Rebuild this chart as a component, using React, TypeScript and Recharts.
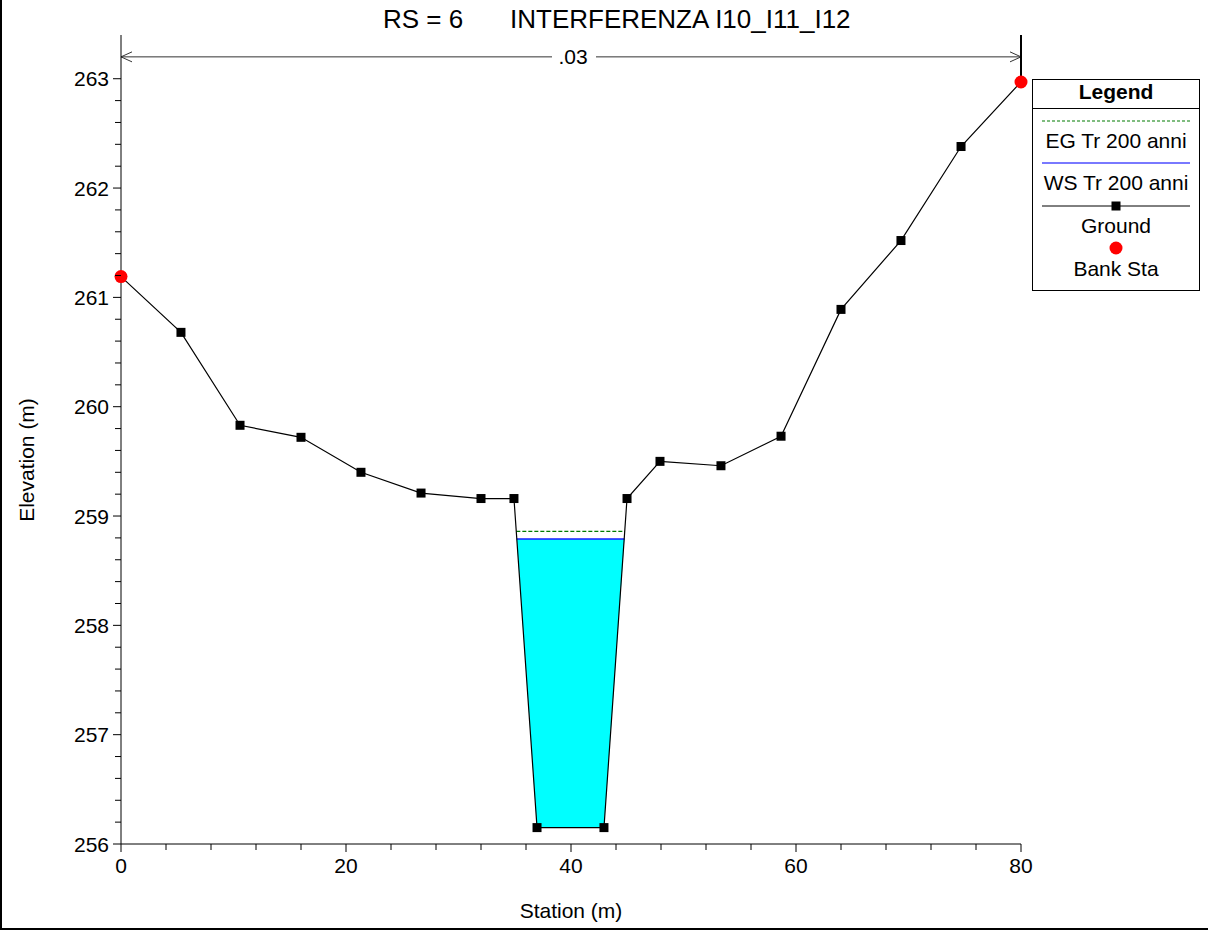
import React from "react";
import {
  ComposedChart,
  Line,
  Area,
  Scatter,
  XAxis,
  YAxis,
  ReferenceLine,
  Legend,
} from "recharts";

// cross section RS = 6, stations (m) and elevations (m)
const groundStation = [0, 5.33, 10.58, 16.0, 21.33, 26.67, 32.0, 34.93, 36.98, 42.93, 44.98, 47.91, 53.33, 58.67, 64.0, 69.33, 74.67, 80];
const groundElev = [261.19, 260.68, 259.83, 259.72, 259.4, 259.21, 259.16, 259.16, 256.15, 256.15, 259.16, 259.5, 259.46, 259.73, 260.89, 261.52, 262.38, 262.97];

const wsStation = [35.18, 44.75];
const wsElev = [258.79, 258.79];
const egStation = [35.14, 44.8];
const egElev = [258.86, 258.86];

// water body: station, bottom, surface
const waterStation = [35.18, 36.98, 42.93, 44.75];
const waterBottom = [258.79, 256.15, 256.15, 258.79];
const waterTop = [258.79, 258.79, 258.79, 258.79];

const bankStation = [0, 80];
const bankElev = [261.19, 262.97];

const manningN = ".03";
const manningElev = 263.2;

const xTicks = [0, 4, 8, 12, 16, 20, 24, 28, 32, 36, 40, 44, 48, 52, 56, 60, 64, 68, 72, 76, 80];
const xMajor = [0, 20, 40, 60, 80];
const yTicks = [
  256, 256.2, 256.4, 256.6, 256.8, 257, 257.2, 257.4, 257.6, 257.8,
  258, 258.2, 258.4, 258.6, 258.8, 259, 259.2, 259.4, 259.6, 259.8,
  260, 260.2, 260.4, 260.6, 260.8, 261, 261.2, 261.4, 261.6, 261.8,
  262, 262.2, 262.4, 262.6, 262.8, 263,
];
const yMajor = [256, 257, 258, 259, 260, 261, 262, 263];

const ground = groundStation.map((x, i) => ({ x, y: groundElev[i] }));
const ws = wsStation.map((x, i) => ({ x, y: wsElev[i] }));
const eg = egStation.map((x, i) => ({ x, y: egElev[i] }));
const water = waterStation.map((x, i) => ({ x, range: [waterBottom[i], waterTop[i]] }));
const bank = bankStation.map((x, i) => ({ x, y: bankElev[i] }));

const FONT = "'Liberation Sans', Arial, sans-serif";
const FS = 21;

const isMajor = (v: number, list: number[]) => list.some((m) => Math.abs(m - v) < 1e-6);

const YTick = (props: any) => {
  const { x, y, payload } = props;
  const major = isMajor(payload.value, yMajor);
  return (
    <g>
      <line x1={x - (major ? 8 : 6)} x2={x} y1={y} y2={y} stroke="#000" strokeWidth={1} />
      {major && (
        <text x={x - 12} y={y} dy="0.36em" textAnchor="end" fontSize={FS} fontFamily={FONT} fill="#000">
          {Math.round(payload.value)}
        </text>
      )}
    </g>
  );
};

const XTick = (props: any) => {
  const { x, y, payload } = props;
  const major = isMajor(payload.value, xMajor);
  return (
    <g>
      <line x1={x} x2={x} y1={y} y2={y + (major ? 8 : 6)} stroke="#000" strokeWidth={1} />
      {major && (
        <text x={x} y={y + 29} textAnchor="middle" fontSize={FS} fontFamily={FONT} fill="#000">
          {payload.value}
        </text>
      )}
    </g>
  );
};

const SquareDot = (p: any) => {
  if (p.index === 0 || p.index === groundStation.length - 1) return <g key={`sq-${p.index}`} />;
  return <rect key={`sq-${p.index}`} x={p.cx - 4.5} y={p.cy - 4.5} width={9} height={9} fill="#000" />;
};

const DimensionLine = (p: any) => {
  const { x1, y1, x2 } = p;
  const cx = (x1 + x2) / 2 + 2;
  const y = y1;
  return (
    <g stroke="#333" strokeWidth={1} fill="none">
      <line x1={x1} y1={y} x2={cx - 21} y2={y} />
      <line x1={cx + 23} y1={y} x2={x2} y2={y} />
      <polyline points={`${x1 + 11},${y - 5} ${x1},${y} ${x1 + 11},${y + 5}`} />
      <polyline points={`${x2 - 11},${y - 5} ${x2},${y} ${x2 - 11},${y + 5}`} />
      <text x={cx} y={y} dy="0.36em" textAnchor="middle" fontSize={FS} fontFamily={FONT} fill="#000" stroke="none">
        {manningN}
      </text>
    </g>
  );
};

const LegendBox = () => {
  const w = 168;
  const h = 212;
  const c = w / 2;
  const t = { fontSize: FS, fontFamily: FONT, fill: "#000", textAnchor: "middle" as const };
  return (
    <svg width={w} height={h} style={{ display: "block" }}>
      <rect x={0.5} y={0.5} width={w - 1} height={h - 1} fill="#fff" stroke="#000" />
      <text x={c} y={19.5} {...t} fontWeight="bold">Legend</text>
      <line x1={0} x2={w} y1={29.5} y2={29.5} stroke="#000" />
      <line x1={10} x2={158} y1={42} y2={42} stroke="#007a00" strokeWidth={1.2} strokeDasharray="3 2" />
      <text x={c} y={68.5} {...t}>EG Tr 200 anni</text>
      <line x1={10} x2={158} y1={84} y2={84} stroke="#4d4dff" strokeWidth={1.5} />
      <text x={c} y={110.5} {...t}>WS Tr 200 anni</text>
      <line x1={10} x2={158} y1={127} y2={127} stroke="#000" />
      <rect x={c - 4.5} y={122.5} width={9} height={9} fill="#000" />
      <text x={c} y={153.5} {...t}>Ground</text>
      <circle cx={c} cy={169} r={6.5} fill="#ff0000" />
      <text x={c} y={196.5} {...t}>Bank Sta</text>
    </svg>
  );
};

export default function App() {
  return (
    <div style={{ position: "absolute", left: 0, top: 0, width: 1208, height: 930, background: "#fff", fontFamily: FONT }}>
      <div style={{ position: "absolute", left: 383, top: 3, fontSize: 26, lineHeight: "32px", color: "#000", whiteSpace: "nowrap" }}>RS = 6</div>
      <div style={{ position: "absolute", left: 510, top: 3, fontSize: 26, lineHeight: "32px", color: "#000", whiteSpace: "nowrap" }}>INTERFERENZA I10_I11_I12</div>
      <ComposedChart width={1208} height={930} margin={{ top: 35, right: 187, bottom: 0, left: 0 }}>
        <XAxis
          type="number"
          dataKey="x"
          domain={[0, 80]}
          ticks={xTicks}
          interval={0}
          tickSize={0}
          tickMargin={0}
          tickLine={false}
          tick={<XTick />}
          height={86}
          axisLine={{ stroke: "#000", strokeWidth: 1 }}
          label={{
            content: (p: any) => (
              <text x={p.viewBox.x + p.viewBox.width / 2} y={p.viewBox.y + 74} textAnchor="middle" fontSize={FS} fontFamily={FONT} fill="#000">
                Station (m)
              </text>
            ),
          }}
        />
        <YAxis
          type="number"
          dataKey="y"
          domain={[256, 263.4]}
          ticks={yTicks}
          interval={0}
          tickSize={0}
          tickMargin={0}
          tickLine={false}
          tick={<YTick />}
          width={121}
          axisLine={{ stroke: "#000", strokeWidth: 1 }}
          label={{
            content: () => (
              <text
                x={26}
                y={460}
                transform="rotate(-90 26 460)"
                textAnchor="middle"
                dominantBaseline="central"
                fontSize={FS}
                fontFamily={FONT}
                fill="#000"
              >
                Elevation (m)
              </text>
            ),
          }}
        />
        <Area
          data={water}
          dataKey="range"
          type="linear"
          stroke="none"
          fill="#00ffff"
          fillOpacity={1}
          isAnimationActive={false}
          legendType="none"
        />
        <Line data={eg} dataKey="y" type="linear" stroke="#007a00" strokeWidth={1.3} strokeDasharray="4 2" dot={false} isAnimationActive={false} name="EG Tr 200 anni" />
        <Line data={ws} dataKey="y" type="linear" stroke="#1a1aff" strokeWidth={1.5} dot={false} isAnimationActive={false} name="WS Tr 200 anni" />
        <Line data={ground} dataKey="y" type="linear" stroke="#000" strokeWidth={1.2} dot={SquareDot} isAnimationActive={false} name="Ground" />
        <ReferenceLine
          segment={[{ x: 0, y: manningElev }, { x: 80, y: manningElev }]}
          shape={DimensionLine}
          ifOverflow="visible"
        />
        <ReferenceLine
          segment={[{ x: 80, y: 263.4 }, { x: 80, y: 262.97 }]}
          stroke="#000"
          strokeWidth={2}
          ifOverflow="visible"
        />
        <Scatter data={bank} dataKey="y" fill="#ff0000" shape={(p: any) => <circle cx={p.cx} cy={p.cy} r={6.5} fill="#ff0000" />} isAnimationActive={false} name="Bank Sta" />
        <Legend
          layout="vertical"
          align="center"
          verticalAlign="middle"
          content={() => <LegendBox />}
          wrapperStyle={{ position: "absolute", left: 1032, top: 79, width: 168, height: 212 }}
        />
      </ComposedChart>
      <div style={{ position: "absolute", left: 0, top: 0, width: 2, height: 930, background: "#000" }} />
      <div style={{ position: "absolute", left: 0, top: 928, width: 1208, height: 2, background: "#000" }} />
    </div>
  );
}
